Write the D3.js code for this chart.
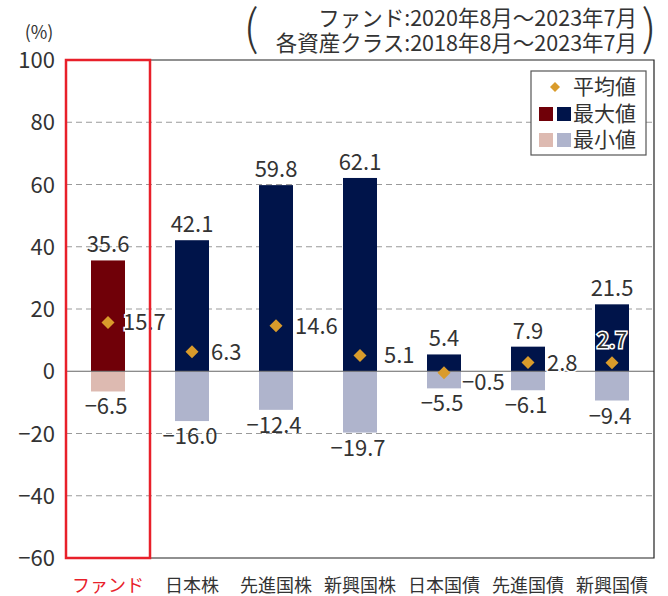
<!DOCTYPE html>
<html>
<head>
<meta charset="utf-8">
<title>最大値・最小値・平均値</title>
<script src="https://cdn.jsdelivr.net/npm/d3@7"></script>
<style>
	body { margin: 0; background: #fff; }
	svg { display: block; font-family: "Noto Sans CJK JP", "Noto Sans", sans-serif; }
	.grid line { stroke: #9a9a9a; stroke-dasharray: 6 4; }
	.tick-label { font-size: 22px; fill: #333; }
	.val { font-size: 22px; fill: #333; }
	.cat { font-size: 18px; fill: #333; }
</style>
</head>
<body>
<svg id="chart" width="668" height="596"></svg>
<script>
	// data
	var categories = ["ファンド", "日本株", "先進国株", "新興国株", "日本国債", "先進国債", "新興国債"];
	var maxValues  = [35.6, 42.1, 59.8, 62.1, 5.4, 7.9, 21.5];
	var minValues  = [-6.5, -16.0, -12.4, -19.7, -5.5, -6.1, -9.4];
	var meanValues = [15.7, 6.3, 14.6, 5.1, -0.5, 2.8, 2.7];
	var yTicks = [100, 80, 60, 40, 20, 0, -20, -40, -60];
	var titleLines = ["ファンド:2020年8月～2023年7月", "各資産クラス:2018年8月～2023年7月"];

	// where the mean label sits next to the diamond
	var meanLabelPos = ["right", "right", "right", "right", "lower", "right", "above"];

	var fmt = function(v){ return (v < 0 ? "\u2212" : "") + d3.format(".1f")(Math.abs(v)); };

	var svg = d3.select("#chart");
	var mLeft = 66, mRight = 654, mTop = 60, mBottom = 558;

	var x = d3.scaleBand().domain(categories).range([mLeft, mRight]);
	var y = d3.scaleLinear().domain([-60, 100]).range([mBottom, mTop]);
	var bw = 34;
	var cx = function(i){ return x(categories[i]) + x.bandwidth() / 2; };

	// grid
	svg.append("g").attr("class", "grid")
		.selectAll("line").data(yTicks.filter(function(t){ return t != 0 && t != 100 && t != -60; }))
		.enter().append("line")
		.attr("x1", mLeft).attr("x2", mRight)
		.attr("y1", function(d){ return y(d); }).attr("y2", function(d){ return y(d); });

	// y tick labels
	svg.append("g").selectAll("text").data(yTicks).enter().append("text")
		.attr("class", "tick-label")
		.attr("x", 55).attr("y", function(d){ return y(d) + 8; })
		.attr("text-anchor", "end")
		.text(function(d){ return d < 0 ? "\u2212" + Math.abs(d) : d; });

	svg.append("text").attr("x", 39).attr("y", 39).attr("text-anchor", "middle")
		.style("font-size", "18px").style("fill", "#333").text("(%)");

	// bars
	var bars = svg.append("g");
	bars.selectAll("rect.max").data(maxValues).enter().append("rect")
		.attr("x", function(d, i){ return cx(i) - bw / 2; })
		.attr("y", function(d){ return y(d); })
		.attr("width", bw).attr("height", function(d){ return y(0) - y(d); })
		.attr("fill", function(d, i){ return i == 0 ? "#700008" : "#00144a"; });
	bars.selectAll("rect.min").data(minValues).enter().append("rect")
		.attr("x", function(d, i){ return cx(i) - bw / 2; })
		.attr("y", y(0))
		.attr("width", bw).attr("height", function(d){ return y(d) - y(0); })
		.attr("fill", function(d, i){ return i == 0 ? "#ddbab1" : "#afb4cc"; });

	// zero line and frame
	svg.append("line").attr("x1", mLeft).attr("x2", mRight).attr("y1", y(0)).attr("y2", y(0))
		.attr("stroke", "#666").attr("stroke-width", 1.2);
	svg.append("path")
		.attr("d", "M" + mLeft + "," + mTop + "H" + mRight + "V" + mBottom + "H" + mLeft)
		.attr("fill", "none").attr("stroke", "#222").attr("stroke-width", 1.2);

	// max / min labels
	svg.append("g").selectAll("text").data(maxValues).enter().append("text")
		.attr("class", "val").attr("text-anchor", "middle")
		.attr("x", function(d, i){ return cx(i); })
		.attr("y", function(d){ return y(d) - 8; })
		.text(fmt);
	svg.append("g").selectAll("text").data(minValues).enter().append("text")
		.attr("class", "val").attr("text-anchor", "middle")
		.attr("x", function(d, i){ return cx(i) - 2; })
		.attr("y", function(d){ return y(d) + 23; })
		.text(fmt);

	// mean diamonds
	svg.append("g").selectAll("path").data(meanValues).enter().append("path")
		.attr("d", "M0,-6.5L6.5,0L0,6.5L-6.5,0Z")
		.attr("transform", function(d, i){ return "translate(" + cx(i) + "," + y(d) + ")"; })
		.attr("fill", "#d99b2b");

	svg.append("g").selectAll("text").data(meanValues).enter().append("text")
		.attr("class", "val")
		.attr("stroke", "#fff").attr("stroke-width", 3).attr("paint-order", "stroke")
		.attr("text-anchor", function(d, i){ return meanLabelPos[i] == "above" ? "middle" : "start"; })
		.attr("x", function(d, i){
			if (meanLabelPos[i] == "above") return cx(i);
			if (meanLabelPos[i] == "lower") return cx(i) + 18;
			return cx(i) + (i == 0 ? 15 : i == 3 ? 24 : 19);
		})
		.attr("y", function(d, i){
			if (meanLabelPos[i] == "above") return y(d) - 15;
			if (meanLabelPos[i] == "lower") return y(d) + 17;
			return y(d) + 8;
		})
		.text(fmt);

	// fund highlight box
	svg.append("rect")
		.attr("x", x(categories[0])).attr("y", mTop)
		.attr("width", x.bandwidth()).attr("height", mBottom - mTop)
		.attr("fill", "none").attr("stroke", "#e8202a").attr("stroke-width", 2.5);

	// category labels
	svg.append("g").selectAll("text").data(categories).enter().append("text")
		.attr("class", "cat").attr("text-anchor", "middle")
		.attr("x", function(d){ return x(d) + x.bandwidth() / 2; })
		.attr("y", 592)
		.style("fill", function(d, i){ return i == 0 ? "#e8202a" : "#333"; })
		.text(function(d){ return d; });

	// period note
	svg.append("g").selectAll("text").data(titleLines).enter().append("text")
		.attr("x", 637).attr("y", function(d, i){ return 26 + i * 25; })
		.attr("text-anchor", "end")
		.style("font-size", "21.5px").style("fill", "#333")
		.text(function(d){ return d; });
	svg.append("text").attr("x", 251).attr("y", 45).attr("text-anchor", "middle")
		.style("font-size", "48px").style("font-weight", "300").style("fill", "#333").text("(");
	svg.append("text").attr("x", 649).attr("y", 45).attr("text-anchor", "middle")
		.style("font-size", "48px").style("font-weight", "300").style("fill", "#333").text(")");

	// legend
	var lg = svg.append("g").attr("transform", "translate(531,71)");
	lg.append("rect").attr("width", 115).attr("height", 84)
		.attr("fill", "#fff").attr("stroke", "#555").attr("stroke-width", 1.2);
	lg.append("path").attr("d", "M0,-5L5,0L0,5L-5,0Z")
		.attr("transform", "translate(24,16)").attr("fill", "#d99b2b");
	lg.append("rect").attr("x", 8).attr("y", 36).attr("width", 14).attr("height", 14).attr("fill", "#700008");
	lg.append("rect").attr("x", 26).attr("y", 36).attr("width", 14).attr("height", 14).attr("fill", "#00144a");
	lg.append("rect").attr("x", 8).attr("y", 62).attr("width", 14).attr("height", 14).attr("fill", "#ddbab1");
	lg.append("rect").attr("x", 26).attr("y", 62).attr("width", 14).attr("height", 14).attr("fill", "#afb4cc");
	lg.selectAll("text.lab").data(["平均値", "最大値", "最小値"]).enter().append("text")
		.attr("x", 42).attr("y", function(d, i){ return 23 + i * 26.5; })
		.style("font-size", "21px").style("fill", "#333")
		.text(function(d){ return d; });
</script>
</body>
</html>
